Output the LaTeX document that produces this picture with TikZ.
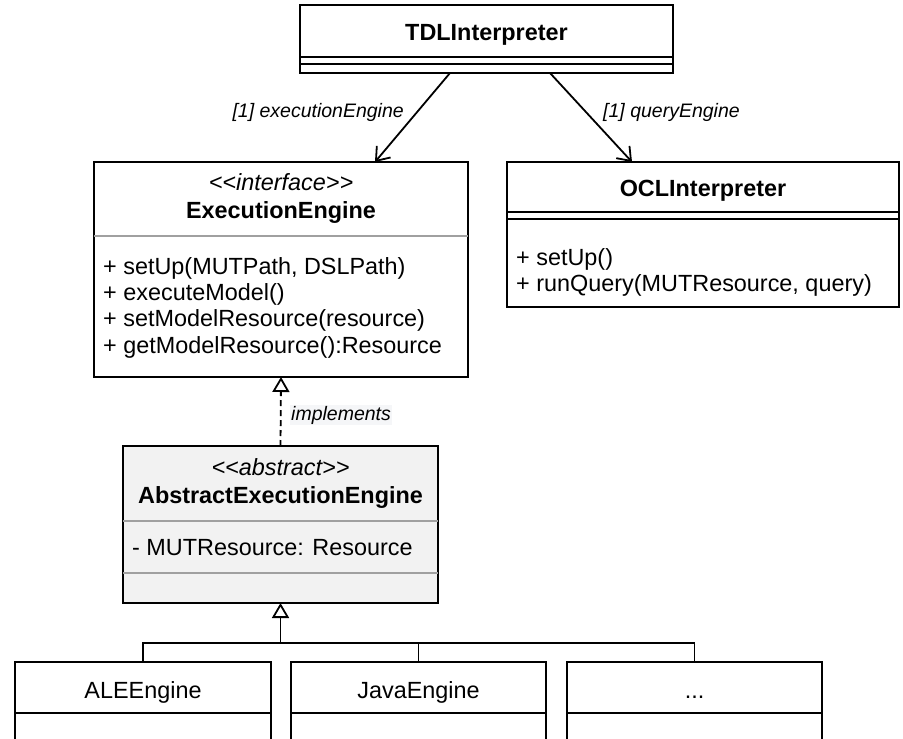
\documentclass[tikz,border=0pt]{standalone}
\usepackage{fontspec}
\setmainfont{Liberation Sans}
\usetikzlibrary{calc,arrows.meta}
\definecolor{absfill}{HTML}{F2F2F2}
\definecolor{divgray}{HTML}{A0A0A0}
\definecolor{lblbg}{HTML}{F5F6F8}
\newcommand{\ltlt}{<\kern0pt<}
\newcommand{\gtgt}{>\kern0pt>}
\begin{document}
\begin{tikzpicture}[x=1pt,y=-1pt,
  box/.style={draw=black, line width=2pt, anchor=north west, inner sep=0pt, outer sep=0pt},
  txt/.style={font=\fontsize{23.4}{27}\selectfont, inner sep=0pt},
  btxt/.style={font=\fontsize{23.4}{27}\selectfont\bfseries, inner sep=0pt},
  itxt/.style={font=\fontsize{23.4}{27}\selectfont\itshape, inner sep=0pt},
  lbl/.style={font=\fontsize{19.5}{23}\selectfont\itshape, inner sep=0pt},
  blk/.style={draw=black, line width=2pt},
  gry/.style={draw=divgray, line width=1.5pt},
  assoc/.style={draw=black, line width=1.8pt, -{Straight Barb[length=12pt,width=18pt]}},
  impl/.style={draw=black, line width=1.8pt, dash pattern=on 6pt off 4pt, -{Triangle[open,length=15pt,width=17pt,fill=white]}},
  inh/.style={draw=black, line width=1.8pt, -{Triangle[open,length=15pt,width=17pt,fill=white]}},
  conn/.style={draw=black, line width=1.8pt}
]
\useasboundingbox (0,0) rectangle (903,739);
\fill[white] (0,0) rectangle (903,739);

% TDLInterpreter
\node[box, minimum width=373pt, minimum height=68pt] (tdl) at (300,5) {};
\draw[blk] ([yshift=-52pt]tdl.north west) -- ([yshift=-52pt]tdl.north east);
\draw[blk] ([yshift=-59pt]tdl.north west) -- ([yshift=-59pt]tdl.north east);
\node[btxt, anchor=base] (tdlname) at (486.5,40) {TDLInterpreter};

% ExecutionEngine
\node[box, minimum width=374pt, minimum height=215pt] (ee) at (94,162) {};
\draw[gry] ([yshift=-74pt]ee.north west) -- ([yshift=-74pt]ee.north east);
\node[itxt, anchor=base] (eest) at (281,190) {\ltlt interface\gtgt};
\node[btxt, anchor=base] (eename) at (281,218) {ExecutionEngine};
\node[txt, anchor=base west] (eeop1) at (103,274) {+ setUp(MUTPath, DSLPath)};
\node[txt, anchor=base west] (eeop2) at (103,300) {+ executeModel()};
\node[txt, anchor=base west] (eeop3) at (103,326) {+ setModelResource(resource)};
\node[txt, anchor=base west] (eeop4) at (103,353) {+ getModelResource():Resource};

% OCLInterpreter
\node[box, minimum width=392pt, minimum height=145pt] (ocl) at (507,162) {};
\draw[blk] ([yshift=-50pt]ocl.north west) -- ([yshift=-50pt]ocl.north east);
\draw[blk] ([yshift=-57pt]ocl.north west) -- ([yshift=-57pt]ocl.north east);
\node[btxt, anchor=base] (oclname) at (703,196) {OCLInterpreter};
\node[txt, anchor=base west] (oclop1) at (516,265) {+ setUp()};
\node[txt, anchor=base west] (oclop2) at (516,291) {+ runQuery(MUTResource, query)};

% AbstractExecutionEngine
\node[box, fill=absfill, minimum width=315pt, minimum height=157pt] (abs) at (123,446) {};
\draw[gry] ([yshift=-75pt]abs.north west) -- ([yshift=-75pt]abs.north east);
\draw[gry] ([yshift=-127pt]abs.north west) -- ([yshift=-127pt]abs.north east);
\node[itxt, anchor=base] (absst) at (280.5,475) {\ltlt abstract\gtgt};
\node[btxt, anchor=base] (absname) at (280.5,503) {AbstractExecutionEngine};
\node[txt, anchor=base west] (absattr) at (132,555) {- MUTResource: Resource};

% Concrete engines
\node[box, minimum width=256pt, minimum height=110pt] (c1) at (15,662) {};
\node[box, minimum width=255pt, minimum height=110pt] (c2) at (291,662) {};
\node[box, minimum width=255pt, minimum height=110pt] (c3) at (567,662) {};
\foreach \c in {c1,c2,c3}{
  \draw[blk] ([yshift=-51pt]\c.north west) -- ([yshift=-51pt]\c.north east);
}
\node[txt, anchor=base] (c1name) at (c1.north |- 0,698) {ALEEngine};
\node[txt, anchor=base] (c2name) at (c2.north |- 0,698) {JavaEngine};
\node[txt, anchor=base] (c3name) at (c3.north |- 0,698) {...};

% associations
\draw[assoc] ([xshift=150pt]tdl.south west) -- ([xshift=281pt]ee.north west);
\draw[assoc] ([xshift=250pt]tdl.south west) -- ([xshift=125pt]ocl.north west);
\node[lbl, anchor=base east] (lbl1) at (404,117) {[1] executionEngine};
\node[lbl, anchor=base west] (lbl2) at (603,117) {[1] queryEngine};

% implements
\draw[impl] (abs.north) -- (ee.south);
\node[lbl, anchor=base west, fill=lblbg, inner sep=1pt] (lbl3) at (290,420) {implements};

% inheritance tree
\path (abs.south) ++(0,40) coordinate (j);
\draw[conn] (c1.north) |- (j) -| (c3.north);
\draw[conn] (c2.north) -- (c2.north |- j);
\draw[inh] (j) -- (abs.south);
\end{tikzpicture}
\end{document}
